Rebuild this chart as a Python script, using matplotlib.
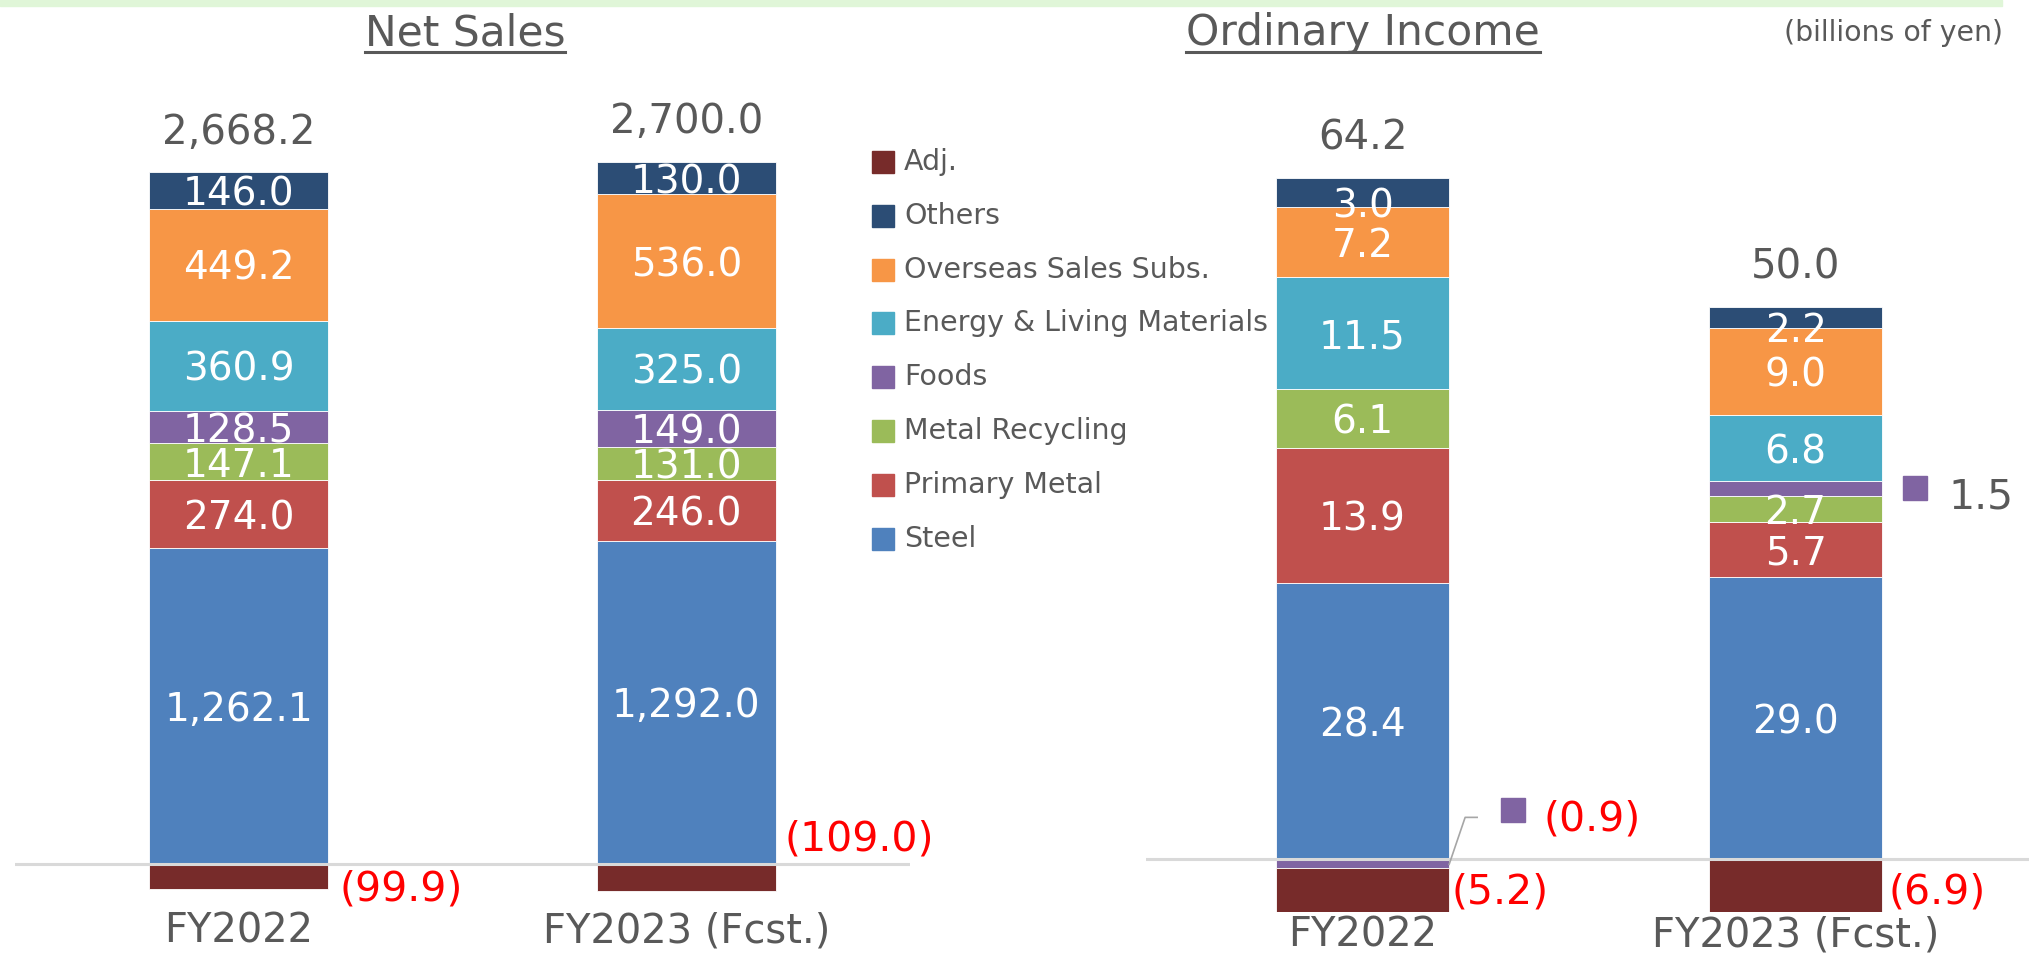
import numpy as np
import matplotlib
matplotlib.use("Agg")
import matplotlib.pyplot as plt
from matplotlib.lines import Line2D
from matplotlib.patches import Rectangle
from matplotlib.transforms import IdentityTransform, blended_transform_factory, offset_copy

# ---- data (billions of yen) ----
periods = ["FY2022", "FY2023 (Fcst.)"]
segments = ["Steel", "Primary Metal", "Metal Recycling", "Foods",
            "Energy & Living Materials", "Overseas Sales Subs.", "Others", "Adj."]
colors = ["#4F81BD", "#C0504D", "#9BBB59", "#8064A2",
          "#4BACC6", "#F79646", "#2C4D75", "#772B2A"]

sales_fy2022 = [1262.1, 274.0, 147.1, 128.5, 360.9, 449.2, 146.0, -99.9]
sales_fy2023 = [1292.0, 246.0, 131.0, 149.0, 325.0, 536.0, 130.0, -109.0]
sales_totals = [2668.2, 2700.0]

oi_fy2022 = [28.4, 13.9, 6.1, -0.9, 11.5, 7.2, 3.0, -5.2]
oi_fy2023 = [29.0, 5.7, 2.7, 1.5, 6.8, 9.0, 2.2, -6.9]
oi_totals = [64.2, 50.0]

GRAY = "#595959"
W, H = 2029, 956
plt.rcParams["font.family"] = ["DejaVu Sans"]

fig = plt.figure(figsize=(W / 100, H / 100), dpi=100)


def fmt(v):
    s = f"{abs(v):,.1f}"
    return f"({s})" if v < 0 else s


def draw_panel(ax, bars, totals, neg_off, callouts, nudges, cat_dy, width=0.4):
    for i, vals in enumerate(bars):
        pos, neg = 0.0, 0.0
        for name, v, c in zip(segments, vals, colors):
            if v >= 0:
                b = pos
                pos += v
            else:
                b = neg
                neg += v
            ax.bar(i, v, width, bottom=b, color=c, edgecolor="white",
                   linewidth=0.6, zorder=2)
            mid = b + v / 2
            if (i, name) in callouts:
                co = callouts[(i, name)]
                tr = offset_copy(ax.transData, fig=fig, x=co["sq"][0], y=co["sq"][1], units="dots")
                ax.plot([i + width / 2], [mid], marker="s", ms=17, color=c,
                        transform=tr, clip_on=False, zorder=4)
                ax.annotate(fmt(v), (i + width / 2, mid), xytext=co["txt"],
                            textcoords="offset pixels", ha="left", va="center",
                            fontsize=29.5, color=co["color"], annotation_clip=False)
                if "lead" in co:
                    p0 = ax.transData.transform((i + width / 2, mid))
                    xs = [p0[0] + dx for dx, dy in co["lead"]]
                    ys = [p0[1] + dy for dx, dy in co["lead"]]
                    fig.add_artist(Line2D(xs, ys, color="#A6A6A6", lw=1.2,
                                          transform=IdentityTransform()))
            elif name == "Adj.":
                ax.annotate(fmt(v), (i + width / 2, mid), xytext=neg_off[i],
                            textcoords="offset pixels", ha="left", va="center",
                            fontsize=29.5, color="#FF0000", annotation_clip=False)
            elif v >= 0:
                ax.annotate(fmt(v), (i, mid), xytext=(0, nudges.get(name, 0)),
                            textcoords="offset pixels", ha="center",
                            va="center_baseline", fontsize=28, color="white",
                            zorder=5, annotation_clip=False)
        ax.annotate(fmt(totals[i]), (i, pos), xytext=(0, 44),
                    textcoords="offset pixels", ha="center", va="center_baseline",
                    fontsize=29, color=GRAY, annotation_clip=False)
    bt = blended_transform_factory(ax.transData, ax.transAxes)
    for i, p in enumerate(periods):
        ax.annotate(p, (i, 0), xycoords=bt, xytext=(0, cat_dy),
                    textcoords="offset pixels", ha="center", va="center_baseline",
                    fontsize=28.8, color=GRAY, annotation_clip=False)
    ax.axhline(0, color="#D9D9D9", lw=2.2, zorder=3)
    ax.axis("off")


# axes placed in pixels: bottom at y=912 from the top, top at y=60
ax1 = fig.add_axes([15 / W, 44 / H, 895 / W, 852 / H])
ax1.set_xlim(-0.5, 1.5)
ax1.set_ylim(-(912 - 864) / 0.25, (864 - 60) / 0.25)

ax2 = fig.add_axes([1146 / W, 44 / H, 883 / W, 852 / H])
ax2.set_xlim(-0.5, 1.539)
ax2.set_ylim(-(912 - 859) / 9.71, (859 - 60) / 9.71)

draw_panel(ax1, [sales_fy2022, sales_fy2023], sales_totals,
           neg_off=[(11, -13), (9, 38)], callouts={}, nudges={}, cat_dy=-15)
draw_panel(ax2, [oi_fy2022, oi_fy2023], oi_totals,
           neg_off=[(2, 0), (6, 0)],
           callouts={(0, "Foods"): dict(sq=(64, 53), txt=(94, 44), color="#FF0000",
                                        lead=[(0, -1), (16, 46), (28, 46)]),
                     (1, "Foods"): dict(sq=(33, 1), txt=(66, -9), color=GRAY)},
           nudges={"Others": -10}, cat_dy=-19)

# legend, drawn by hand
for k, name in enumerate(segments[::-1]):
    yc = H - (162 + k * 53.8)
    fig.add_artist(Rectangle((872 / W, (yc - 11) / H), 22 / W, 22 / H,
                             transform=fig.transFigure, color=colors[::-1][k]))
    fig.text(904 / W, (yc + 3) / H, name, ha="left", va="center_baseline",
             fontsize=20.5, color=GRAY)

# top band and titles
fig.add_artist(Rectangle((0, 1 - 6 / H), 2002 / W, 6 / H,
                         transform=fig.transFigure, color="#E0F6D8"))
titles = [fig.text(465 / W, 1 - 46 / H, "Net Sales", ha="center", va="baseline",
                   fontsize=30.5, color=GRAY),
          fig.text(1363 / W, 1 - 45 / H, "Ordinary Income", ha="center", va="baseline",
                   fontsize=30.5, color=GRAY)]
fig.text(2003 / W, 1 - 33 / H, "(billions of yen)", ha="right", va="center",
         fontsize=20.4, color=GRAY)

fig.canvas.draw()
r = fig.canvas.get_renderer()
for t in titles:
    bb = t.get_window_extent(r)
    fig.add_artist(Line2D([bb.x0, bb.x1], [H - 52, H - 52], color=GRAY, lw=2.2,
                          transform=IdentityTransform()))

fig.savefig("out.png", dpi=100)
